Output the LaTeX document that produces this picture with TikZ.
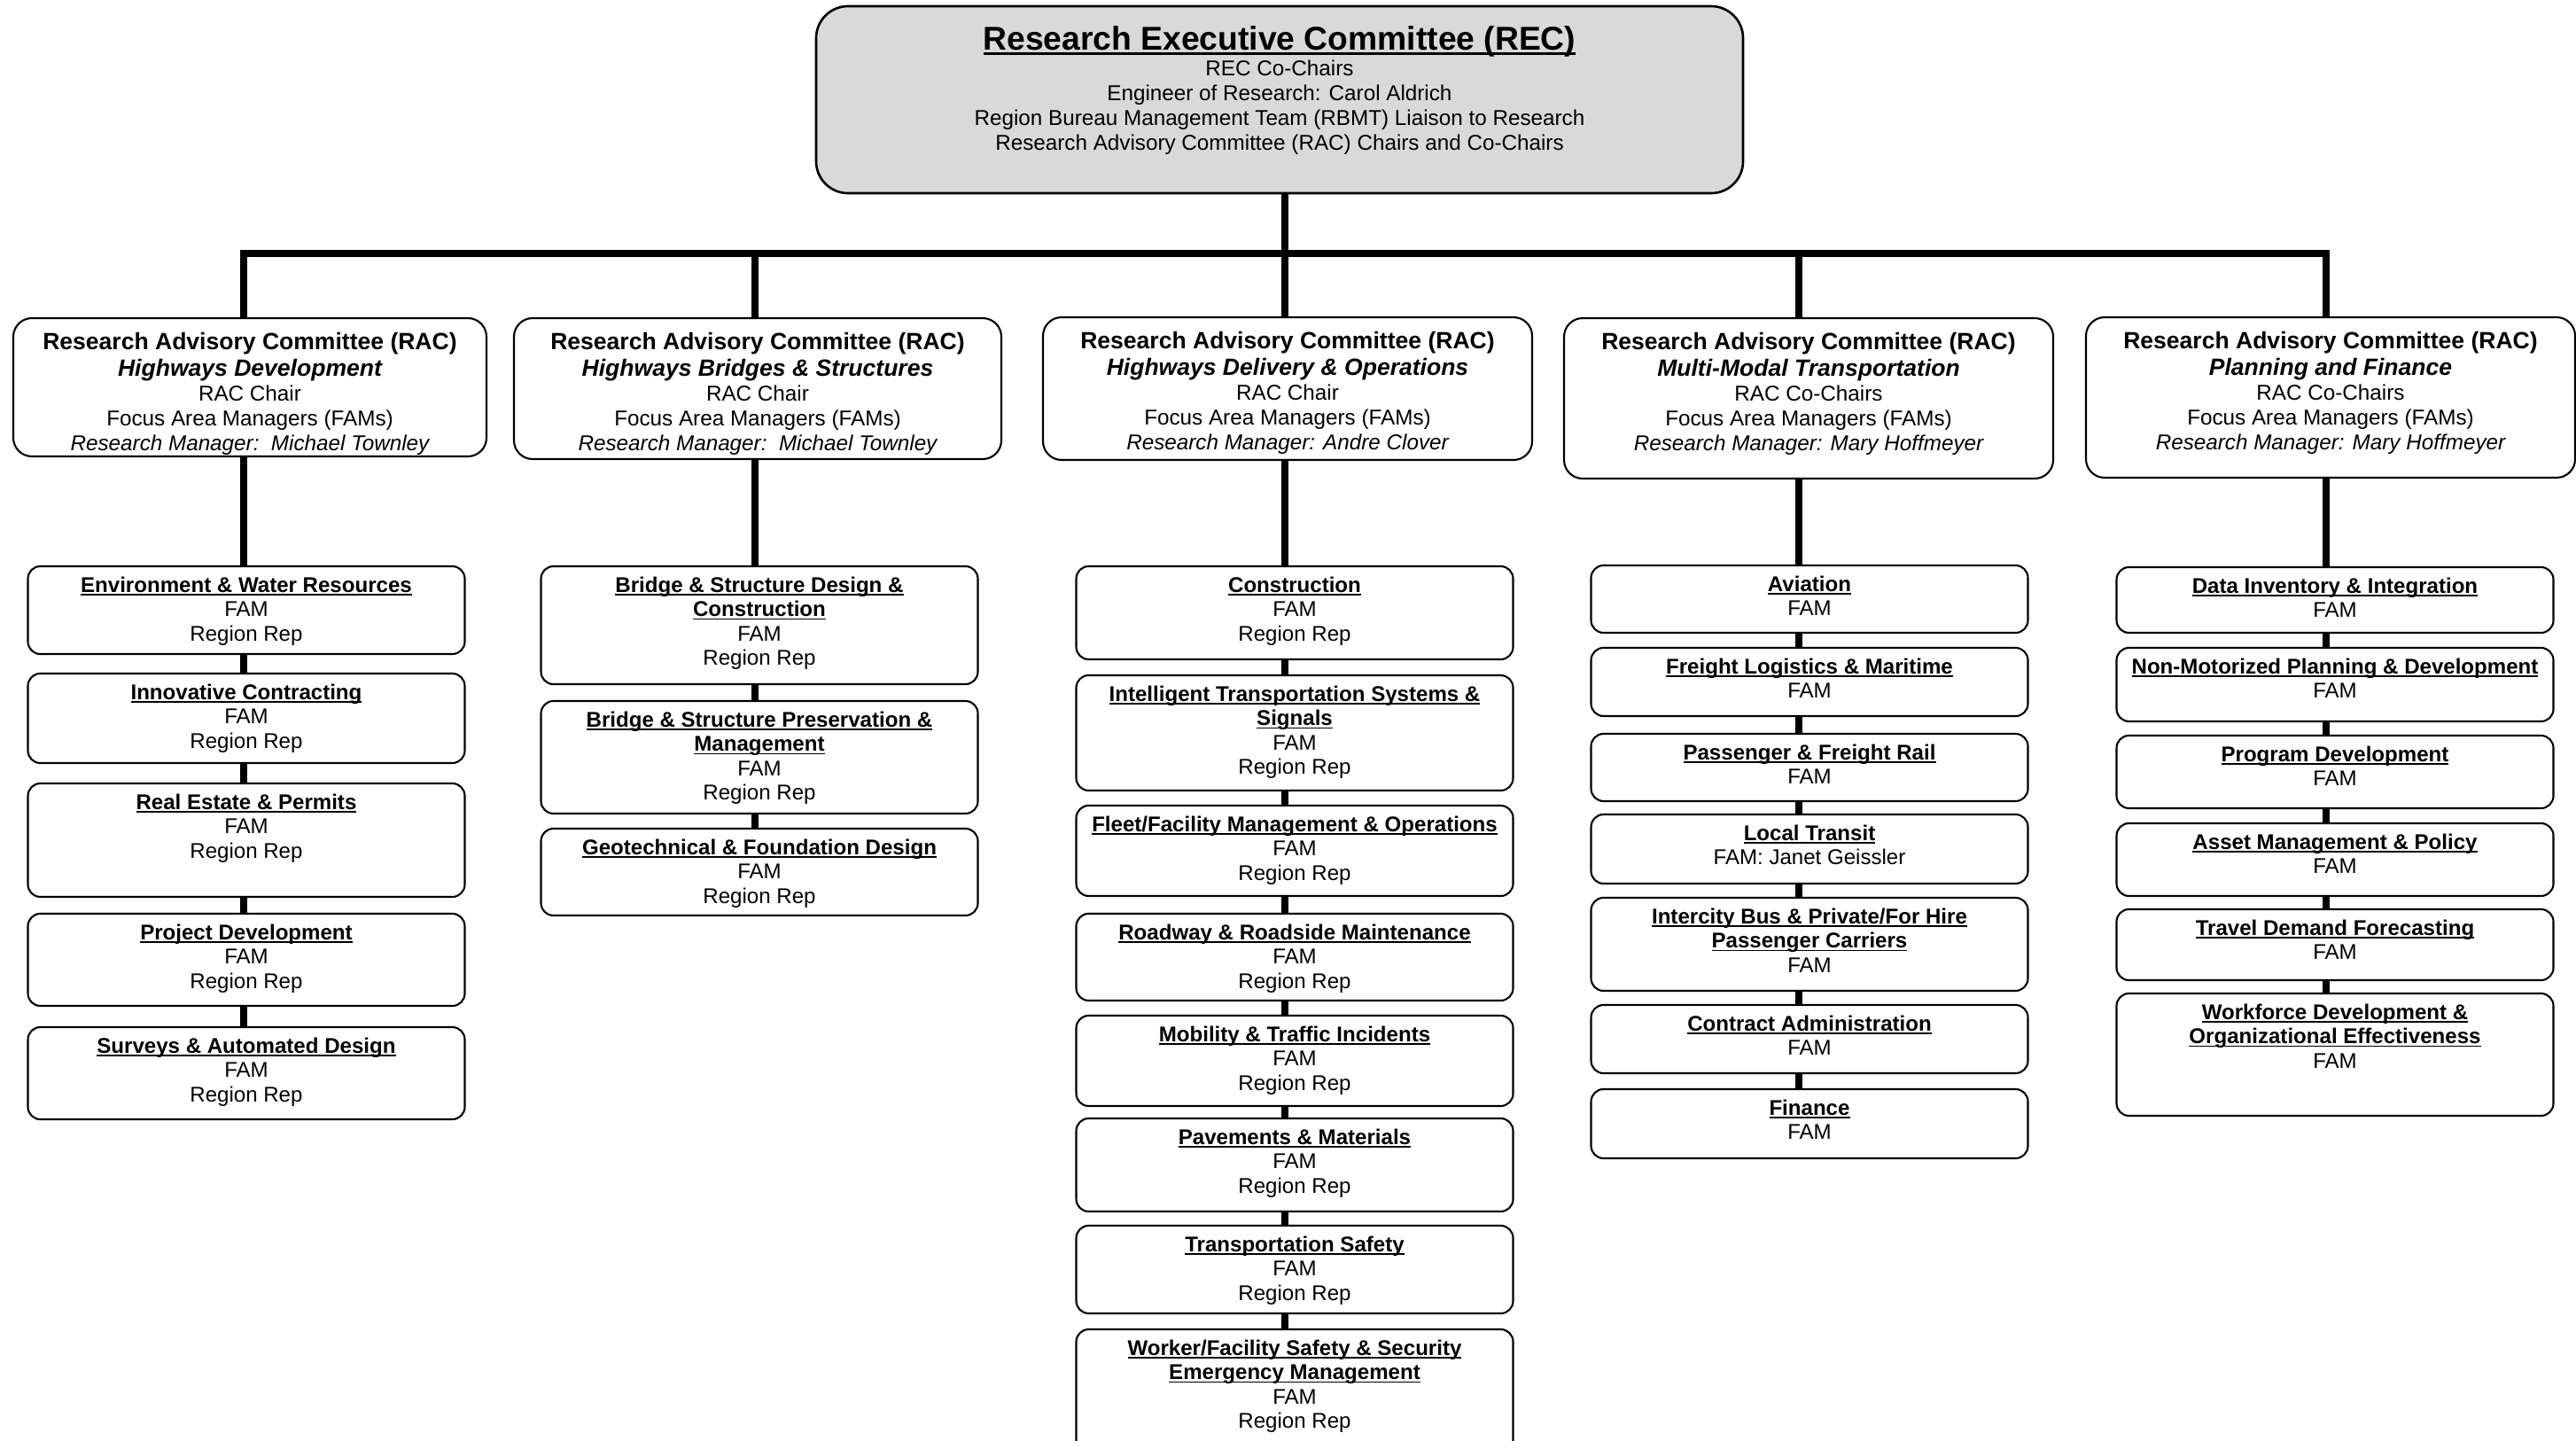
\documentclass[tikz,border=0pt]{standalone}
\usepackage{fontspec}
\setmainfont{Liberation Sans}
\usepackage{tikz}
\usetikzlibrary{positioning, backgrounds}

\newcommand{\ulbox}[1]{\leavevmode\setbox0\hbox{#1}\rlap{\rule[-0.15em]{\wd0}{0.08em}}\box0}
\newcommand{\famtitle}[1]{{\bfseries\ulbox{#1}}}
\newcommand{\racbig}{\fontsize{7.55}{8.5}\selectfont\bfseries}
\newcommand{\famcell}[2]{\parbox[t][#1cm][t]{4.8cm}{\vspace*{3.4pt}\centering #2}}
\newcommand{\raccell}[4]{\parbox[t][#1cm][t]{5.2cm}{\vspace*{4.6pt}\centering
  {\racbig Research Advisory Committee (RAC)}\\[0.5pt]
  {\racbig\itshape #2}\\
  #3\\
  Focus Area Managers (FAMs)\\
  {\itshape #4}}}

\begin{document}
\begin{tikzpicture}[
    link/.style={line width=2.2pt, line cap=rect},
    recbox/.style={draw, line width=0.75pt, rounded corners=0.36cm, fill=black!15, inner sep=0pt, outer sep=0pt, minimum width=10.46cm, anchor=north, font=\fontsize{6.9}{8}\selectfont},
    racbox/.style={draw, line width=0.6pt, rounded corners=0.21cm, fill=white, inner sep=0pt, outer sep=0pt, minimum width=5.52cm, anchor=north, font=\fontsize{6.9}{8}\selectfont},
    fambox/.style={draw, line width=0.6pt, rounded corners=0.14cm, fill=white, inner sep=0pt, outer sep=0pt, minimum width=4.93cm, font=\fontsize{6.85}{7.8}\selectfont}
  ]
  \useasboundingbox (0,0) rectangle (29.07,-16.25);
  \clip (0,0) rectangle (29.07,-16.25);

  % executive committee
  \node[recbox] (rec) at (14.44,-0.07) {\parbox[t][2.11cm][t]{10cm}{\vspace*{6.3pt}\centering
    {\fontsize{10.6}{12}\selectfont\bfseries\ulbox{Research Executive Committee (REC)}}\\[0.3pt]
    REC Co-Chairs\\
    Engineer of Research: Carol Aldrich\\
    Region Bureau Management Team (RBMT) Liaison to Research\\
    Research Advisory Committee (RAC) Chairs and Co-Chairs}};

  % drop points on the bar
  \coordinate (d1) at (2.75,-2.86);
  \coordinate (d2) at (8.52,-2.86);
  \coordinate (d3) at (14.50,-2.86);
  \coordinate (d4) at (20.30,-2.86);
  \coordinate (d5) at (26.25,-2.86);

  % advisory committees
  \node[racbox, minimum width=5.34cm] (rac1) at (2.82,-3.59) {\raccell{1.56}{Highways Development}{RAC Chair}{Research Manager:\ \ Michael Townley}};
  \node[racbox, minimum width=5.50cm] (rac2) at (8.55,-3.59) {\raccell{1.59}{Highways Bridges \& Structures}{RAC Chair}{Research Manager:\ \ Michael Townley}};
  \node[racbox] (rac3) at (14.53,-3.58) {\raccell{1.61}{Highways Delivery \& Operations}{RAC Chair}{Research Manager: Andre Clover}};
  \node[racbox] (rac4) at (20.41,-3.59) {\raccell{1.81}{Multi-Modal Transportation}{RAC Co-Chairs}{Research Manager: Mary Hoffmeyer}};
  \node[racbox] (rac5) at (26.30,-3.58) {\raccell{1.81}{Planning and Finance}{RAC Co-Chairs}{Research Manager: Mary Hoffmeyer}};

  % highways development
  \node[fambox, anchor=north] (c1a) at (2.78,-6.39) {\famcell{0.99}{\famtitle{Environment \& Water Resources}\\FAM\\Region Rep}};
  \node[fambox, below=0.22cm of c1a] (c1b) {\famcell{1.01}{\famtitle{Innovative Contracting}\\FAM\\Region Rep}};
  \node[fambox, below=0.23cm of c1b] (c1c) {\famcell{1.28}{\famtitle{Real Estate \& Permits}\\FAM\\Region Rep}};
  \node[fambox, below=0.19cm of c1c] (c1d) {\famcell{1.04}{\famtitle{Project Development}\\FAM\\Region Rep}};
  \node[fambox, below=0.24cm of c1d] (c1e) {\famcell{1.04}{\famtitle{Surveys \& Automated Design}\\FAM\\Region Rep}};

  % bridges and structures
  \node[fambox, anchor=north] (c2a) at (8.57,-6.39) {\famcell{1.33}{\famtitle{Bridge \& Structure Design \&}\\\famtitle{Construction}\\FAM\\Region Rep}};
  \node[fambox, below=0.19cm of c2a] (c2b) {\famcell{1.27}{\famtitle{Bridge \& Structure Preservation \&}\\\famtitle{Management}\\FAM\\Region Rep}};
  \node[fambox, below=0.17cm of c2b] (c2c) {\famcell{0.98}{\famtitle{Geotechnical \& Foundation Design}\\FAM\\Region Rep}};

  % delivery and operations
  \node[fambox, anchor=north] (c3a) at (14.61,-6.39) {\famcell{1.05}{\famtitle{Construction}\\FAM\\Region Rep}};
  \node[fambox, below=0.18cm of c3a] (c3b) {\famcell{1.30}{\famtitle{Intelligent Transportation Systems \&}\\\famtitle{Signals}\\FAM\\Region Rep}};
  \node[fambox, below=0.17cm of c3b] (c3c) {\famcell{1.02}{\famtitle{Fleet/Facility Management \& Operations}\\FAM\\Region Rep}};
  \node[fambox, below=0.20cm of c3c] (c3d) {\famcell{0.98}{\famtitle{Roadway \& Roadside Maintenance}\\FAM\\Region Rep}};
  \node[fambox, below=0.17cm of c3d] (c3e) {\famcell{1.02}{\famtitle{Mobility \& Traffic Incidents}\\FAM\\Region Rep}};
  \node[fambox, below=0.14cm of c3e] (c3f) {\famcell{1.05}{\famtitle{Pavements \& Materials}\\FAM\\Region Rep}};
  \node[fambox, below=0.16cm of c3f] (c3g) {\famcell{0.99}{\famtitle{Transportation Safety}\\FAM\\Region Rep}};
  \node[fambox, below=0.18cm of c3g] (c3h) {\famcell{1.45}{\famtitle{Worker/Facility Safety \& Security}\\\famtitle{Emergency Management}\\FAM\\Region Rep}};

  % multi-modal
  \node[fambox, anchor=north] (c4a) at (20.42,-6.38) {\famcell{0.76}{\famtitle{Aviation}\\FAM}};
  \node[fambox, below=0.17cm of c4a] (c4b) {\famcell{0.77}{\famtitle{Freight Logistics \& Maritime}\\FAM}};
  \node[fambox, below=0.20cm of c4b] (c4c) {\famcell{0.76}{\famtitle{Passenger \& Freight Rail}\\FAM}};
  \node[fambox, below=0.15cm of c4c] (c4d) {\famcell{0.78}{\famtitle{Local Transit}\\FAM: Janet Geissler}};
  \node[fambox, below=0.16cm of c4d] (c4e) {\famcell{1.05}{\famtitle{Intercity Bus \& Private/For Hire}\\\famtitle{Passenger Carriers}\\FAM}};
  \node[fambox, below=0.16cm of c4e] (c4f) {\famcell{0.77}{\famtitle{Contract Administration}\\FAM}};
  \node[fambox, below=0.18cm of c4f] (c4g) {\famcell{0.78}{\famtitle{Finance}\\FAM}};

  % planning and finance
  \node[fambox, anchor=north] (c5a) at (26.35,-6.40) {\famcell{0.74}{\famtitle{Data Inventory \& Integration}\\FAM}};
  \node[fambox, below=0.17cm of c5a] (c5b) {\famcell{0.83}{\famtitle{Non-Motorized Planning \& Development}\\FAM}};
  \node[fambox, below=0.16cm of c5b] (c5c) {\famcell{0.82}{\famtitle{Program Development}\\FAM}};
  \node[fambox, below=0.17cm of c5c] (c5d) {\famcell{0.82}{\famtitle{Asset Management \& Policy}\\FAM}};
  \node[fambox, below=0.15cm of c5d] (c5e) {\famcell{0.80}{\famtitle{Travel Demand Forecasting}\\FAM}};
  \node[fambox, below=0.15cm of c5e] (c5f) {\famcell{1.38}{\famtitle{Workforce Development \&}\\\famtitle{Organizational Effectiveness}\\FAM}};

  % connectors
  \begin{scope}[on background layer]
    \draw[link] (d1) -- (d5);
    \draw[link] (d3 |- rec.south) -- (d3);
    \foreach \i in {1,...,5}
      \draw[link] (d\i) -- (d\i |- rac\i.north);
    \foreach \a/\b/\c in {rac1/c1a/d1, c1a/c1b/d1, c1b/c1c/d1, c1c/c1d/d1, c1d/c1e/d1,
        rac2/c2a/d2, c2a/c2b/d2, c2b/c2c/d2,
        rac3/c3a/d3, c3a/c3b/d3, c3b/c3c/d3, c3c/c3d/d3, c3d/c3e/d3, c3e/c3f/d3, c3f/c3g/d3, c3g/c3h/d3,
        rac4/c4a/d4, c4a/c4b/d4, c4b/c4c/d4, c4c/c4d/d4, c4d/c4e/d4, c4e/c4f/d4, c4f/c4g/d4,
        rac5/c5a/d5, c5a/c5b/d5, c5b/c5c/d5, c5c/c5d/d5, c5d/c5e/d5, c5e/c5f/d5}
      \draw[link] (\a.south -| \c) -- (\b.north -| \c);
  \end{scope}
\end{tikzpicture}
\end{document}
